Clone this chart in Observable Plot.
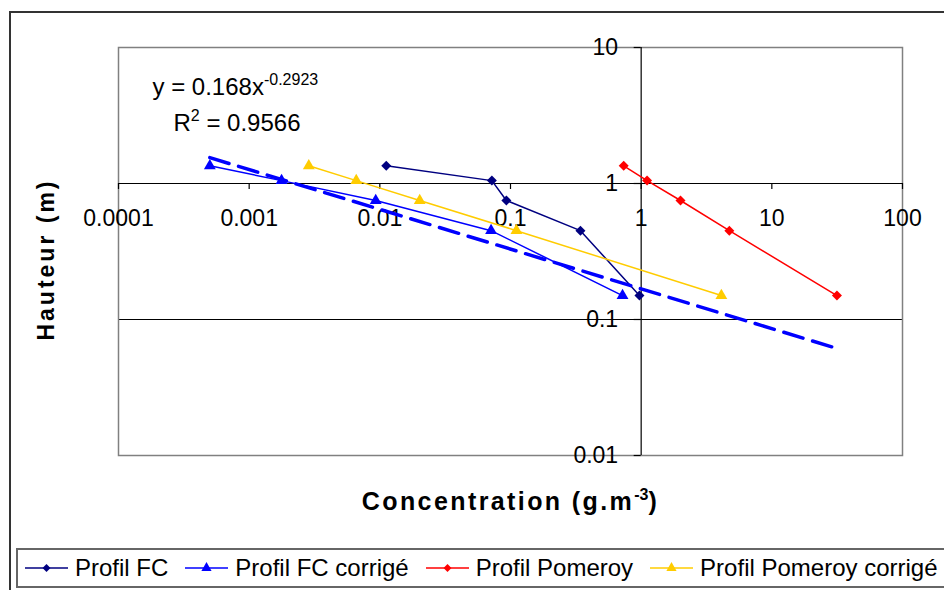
<!DOCTYPE html>
<html>
<head>
<meta charset="utf-8">
<script src="https://cdn.jsdelivr.net/npm/d3@7"></script>
<script src="https://cdn.jsdelivr.net/npm/@observablehq/plot@0.6"></script>
<style>
  html, body { margin: 0; padding: 0; background: #fff; width: 944px; height: 590px; overflow: hidden; }
  #frame { position: absolute; left: 9px; top: 11px; width: 1000px; height: 1000px; border: 2px solid #333; box-sizing: border-box; }
  #chart { position: absolute; left: 0; top: 0; }
  #legend { position: absolute; left: 16px; top: 548px; width: 1000px; height: 40px; border: 2px solid #666; box-sizing: border-box;
            display: flex; align-items: center; font-family: 'Liberation Sans', Arial, sans-serif; font-size: 24px; color: #000; }
  .item { display: flex; align-items: center; margin-right: 17px; white-space: nowrap; }
  .item svg { margin-right: 7px; }
</style>
</head>
<body>
<div id="frame"></div>
<div id="chart"></div>
<div id="legend"></div>
<script>
// ---- Data ----
const heights = [1.35, 1.05, 0.75, 0.45, 0.15];            // Hauteur (m)
const profilFC = [0.0112, 0.072, 0.093, 0.343, 0.97];       // Concentration
const profilFCCorrige = [0.0005, 0.00177, 0.0093, 0.071, 0.72];
const profilPomeroy = [0.735, 1.11, 2.0, 4.73, 31.5];
const profilPomeroyCorrige = [0.00286, 0.0066, 0.0202, 0.111, 4.11];
const seriesNames = ["Profil FC", "Profil FC corrigé", "Profil Pomeroy", "Profil Pomeroy corrigé"];

const xTicks = [0.0001, 0.001, 0.01, 0.1, 1, 10, 100];
const xTickLabels = ["0.0001", "0.001", "0.01", "0.1", "1", "10", "100"];
const yTicks = [10, 1, 0.1, 0.01];
const yTickLabels = ["10", "1", "0.1", "0.01"];

// Power trendline shown on the chart: y = 0.168 x^-0.2923
const trendCoef = 0.168;
const trendExp = -0.2923;
const trendXRange = [0.0005, 31.5];

const eqText = "y = 0.168x^{-0.2923}";
const r2Text = "R^{2} = 0.9566";
const xTitle = "Concentration (g.m^{-3})";
const yTitle = "Hauteur (m)";

// ---- Styles ----
const colors = ["#000080", "#0000FF", "#FF0000", "#FFCC00"];
const symbols = ["diamond2", "triangle", "diamond2", "triangle"];
const seriesValues = [profilFC, profilFCCorrige, profilPomeroy, profilPomeroyCorrige];

const rows = [];
seriesNames.forEach((s, k) => seriesValues[k].forEach((c, i) => rows.push({series: s, conc: c, h: heights[i], k})));
const trend = trendXRange.map(x => ({x, y: trendCoef * Math.pow(x, trendExp)}));

const lineMarks = [];
const dotMarks = [];
seriesNames.forEach((s, k) => {
  const d = rows.filter(r => r.k === k);
  lineMarks.push(Plot.line(d, {x: "conc", y: "h", stroke: colors[k], strokeWidth: 1.5}));
  dotMarks.push(Plot.dot(d, {x: "conc", y: "h", fill: colors[k], stroke: "none", symbol: () => symbols[k],
    r: symbols[k] === "triangle" ? 4.4 : 4.5}));
});

const chart = Plot.plot({
  width: 944,
  height: 540,
  marginLeft: 118,
  marginRight: 42,
  marginTop: 47,
  marginBottom: 85,
  x: {type: "log", domain: [1e-4, 100], axis: null},
  y: {type: "log", domain: [0.01, 10], axis: null},
  symbol: {type: "identity"},
  style: {fontFamily: "'Liberation Sans', Arial, sans-serif", background: "transparent", color: "#000", overflow: "visible"},
  marks: [
    Plot.ruleY(yTicks, {y: d => d, stroke: "#000", strokeWidth: 1}),
    Plot.frame({stroke: "#808080", strokeWidth: 1.5}),
    Plot.ruleY([1], {y: d => d, stroke: "#000", strokeWidth: 1.2}),
    Plot.ruleX([1], {x: d => d, stroke: "#000", strokeWidth: 1.2}),
    // tick marks on the axes crossing at (1, 1)
    Plot.ruleX(xTicks, {x: d => d, y1: () => 1, y2: () => 1, insetTop: 0, insetBottom: -6, stroke: "#000", strokeWidth: 1.2}),
    Plot.ruleY(yTicks, {y: d => d, x1: () => 1, x2: () => 1, insetLeft: -7, insetRight: 0, stroke: "#000", strokeWidth: 1.2}),
    Plot.text(xTicks, {x: d => d, y: () => 1, text: (d, i) => xTickLabels[i], dy: 35, fontSize: 23, textAnchor: "middle", lineAnchor: "middle"}),
    Plot.text(yTicks, {x: () => 1, y: d => d, text: (d, i) => yTickLabels[i], dx: -23, fontSize: 23, textAnchor: "end", lineAnchor: "middle"}),
    ...lineMarks,
    Plot.line(trend, {x: "x", y: "y", stroke: "#0000FF", strokeWidth: 3.5, strokeDasharray: "20,10"}),
    ...dotMarks,
    Plot.text([eqText], {text: d => d, frameAnchor: "top-left", dx: 34, dy: 40, fontSize: 24, textAnchor: "start", lineAnchor: "middle"}),
    Plot.text([r2Text], {text: d => d, frameAnchor: "top-left", dx: 55, dy: 76, fontSize: 24, textAnchor: "start", lineAnchor: "middle"}),
    Plot.text([xTitle], {text: d => d, frameAnchor: "bottom", dx: 0, dy: 46, fontSize: 25, fontWeight: "bold", textAnchor: "middle", lineAnchor: "middle"}),
    Plot.text([yTitle], {text: d => d, frameAnchor: "left", dx: -72, dy: 8, rotate: -90, fontSize: 23, fontWeight: "bold", textAnchor: "middle", lineAnchor: "middle"})
  ]
});

// superscripts and letter spacing on text elements
d3.select(chart).selectAll("text").each(function() {
  const t = this.textContent;
  if (t === yTitle) this.setAttribute("letter-spacing", "3");
  if (t.includes("^{")) {
    if (t === xTitle) this.setAttribute("letter-spacing", "2.4");
    const parts = t.split(/\^\{([^}]*)\}/);
    const sel = d3.select(this);
    sel.text(null);
    parts.forEach((p, i) => {
      if (p === "") return;
      const ts = sel.append("tspan").text(p);
      if (i % 2 === 1) {
        ts.attr("font-size", "16px").attr("dy", -10).attr("letter-spacing", 0);
      } else if (i > 0) {
        ts.attr("dy", 10);
      }
    });
  }
});
document.getElementById("chart").appendChild(chart);

// ---- Legend ----
const legend = d3.select("#legend").style("padding-left", "7px");
seriesNames.forEach((s, k) => {
  const it = legend.append("div").attr("class", "item");
  const sw = it.append("svg").attr("width", 43).attr("height", 20);
  sw.append("line").attr("x1", 0).attr("x2", 43).attr("y1", 10).attr("y2", 10).attr("stroke", colors[k]).attr("stroke-width", 1.5);
  const sym = symbols[k] === "triangle" ? d3.symbolTriangle : d3.symbolDiamond2;
  sw.append("path").attr("d", d3.symbol(sym, symbols[k] === "triangle" ? 45 : 40)()).attr("transform", "translate(21.5,10)").attr("fill", colors[k]);
  it.append("span").text(s);
});
</script>
</body>
</html>
